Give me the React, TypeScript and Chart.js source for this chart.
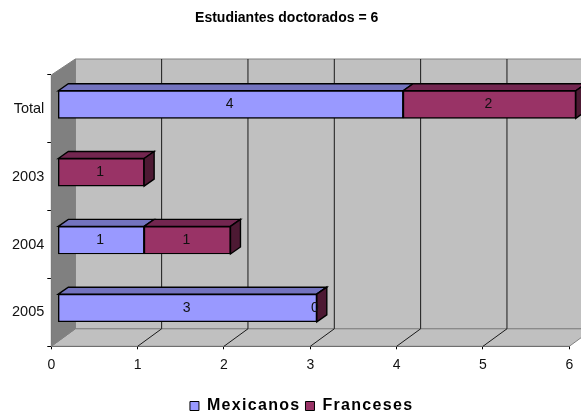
import React, { useEffect, useRef } from "react";
import { Chart, registerables } from "chart.js";

Chart.register(...registerables);

const categories = ["Total", "2003", "2004", "2005"];
const mexicanos = [4, null, 1, 3];
const franceses = [2, 1, 1, 0];
const axisMax = 6;
const chartTitle = "Estudiantes doctorados = 6";

const FONT = "'Liberation Sans', Arial, sans-serif";
const WALL_DX = 24;
const WALL_DY = 17.5;
const BAR_SHIFT_X = 6.5;
const BAR_SHIFT_Y = -4.4;
const BAR_DX = 10;
const BAR_DY = 7;

const polygon = (ctx: any, pts: number[][], fill: string | null, stroke: string | null, lw = 1) => {
  ctx.beginPath();
  pts.forEach(([x, y], i) => (i ? ctx.lineTo(x, y) : ctx.moveTo(x, y)));
  ctx.closePath();
  if (fill) {
    ctx.fillStyle = fill;
    ctx.fill();
  }
  if (stroke) {
    ctx.strokeStyle = stroke;
    ctx.lineWidth = lw;
    ctx.stroke();
  }
};

// Side wall, back wall and floor of the 3D box, with gridlines following the value axis.
const walls = {
  id: "walls",
  beforeDatasetsDraw(chart: any) {
    const { ctx, chartArea: a, scales } = chart;
    const x = scales.x;
    const bl = a.bottom - WALL_DY;
    const tp = a.top - 16;
    ctx.save();
    polygon(ctx, [[a.left + WALL_DX, tp], [a.right + WALL_DX, tp], [a.right + WALL_DX, bl], [a.left + WALL_DX, bl]], "#c0c0c0", "#808080");
    polygon(ctx, [[a.left, a.bottom], [a.left + WALL_DX, bl], [a.right + WALL_DX, bl], [a.right, a.bottom]], "#c0c0c0", "#808080");
    polygon(ctx, [[a.left, a.top], [a.left + WALL_DX, tp], [a.left + WALL_DX, bl], [a.left, a.bottom]], "#808080", "#808080");
    for (let v = 1; v <= axisMax; v++) {
      const px = x.getPixelForValue(v);
      ctx.strokeStyle = "#1a1a1a";
      ctx.lineWidth = 1;
      ctx.beginPath();
      ctx.moveTo(px + WALL_DX, tp);
      ctx.lineTo(px + WALL_DX, bl);
      ctx.stroke();
      if (v < axisMax) {
        ctx.beginPath();
        ctx.moveTo(px, a.bottom);
        ctx.lineTo(px + WALL_DX, bl);
        ctx.stroke();
      }
    }
    ctx.restore();
  },
};

// Top and end faces of the stacked bars; the front faces are the library's own bars.
const barDepth = {
  id: "barDepth",
  beforeDatasetsDraw(chart: any) {
    const { ctx } = chart;
    ctx.save();
    ctx.translate(BAR_SHIFT_X, BAR_SHIFT_Y);
    const tops = ["#7373bf", "#732650"];
    const sides = ["#4d4d80", "#4d1933"];
    const last = chart.data.datasets.length - 1;
    chart.data.datasets.forEach((ds: any, di: number) => {
      chart.getDatasetMeta(di).data.forEach((el: any, i: number) => {
        if (ds.data[i] === null) return;
        const { x, y, base, height } = el.getProps(["x", "y", "base", "height"], true);
        const t = y - height / 2;
        const b = y + height / 2;
        polygon(ctx, [[base, t], [base + BAR_DX, t - BAR_DY], [x + BAR_DX, t - BAR_DY], [x, t]], tops[di], "#000", 1.4);
        if (di === last) {
          polygon(ctx, [[x, t], [x + BAR_DX, t - BAR_DY], [x + BAR_DX, b - BAR_DY], [x, b]], sides[di], "#000", 1.4);
        }
      });
    });
  },
  afterDatasetsDraw(chart: any) {
    const { ctx } = chart;
    ctx.restore();
    // Value labels sit on the front face of each segment.
    ctx.save();
    ctx.font = `14px ${FONT}`;
    ctx.fillStyle = "#111";
    ctx.textAlign = "center";
    ctx.textBaseline = "middle";
    chart.data.datasets.forEach((ds: any, di: number) => {
      chart.getDatasetMeta(di).data.forEach((el: any, i: number) => {
        const value = ds.data[i];
        if (value === null) return;
        const { x, y, base } = el.getProps(["x", "y", "base"], true);
        const nudge = value === 0 ? -2 : -1;
        ctx.fillText(String(value), (x + base) / 2 + BAR_SHIFT_X + nudge, y + BAR_SHIFT_Y);
      });
    });
    ctx.restore();
  },
};

// Spaced-out legend lettering, and the horizontal offsets of the title and legend.
const boxTweaks = {
  id: "boxTweaks",
  beforeLayout(chart: any) {
    const legend = chart.legend;
    if (!legend || legend.__wrapped) return;
    legend.__wrapped = true;
    const fit = legend.fit.bind(legend);
    const draw = legend.draw.bind(legend);
    legend.fit = () => {
      chart.ctx.save();
      chart.ctx.letterSpacing = "1.3px";
      fit();
      chart.ctx.restore();
      legend.height = 22;
    };
    legend.draw = () => {
      chart.ctx.save();
      chart.ctx.letterSpacing = "1.3px";
      draw();
      chart.ctx.restore();
    };
  },
  afterLayout(chart: any) {
    chart.legend.left += 17;
    chart.legend.right += 17;
    chart.titleBlock.left += 2;
    chart.titleBlock.right += 2;
  },
};

export default function App() {
  const ref = useRef<HTMLCanvasElement | null>(null);

  useEffect(() => {
    const chart = new Chart(ref.current as HTMLCanvasElement, {
      type: "bar",
      data: {
        labels: categories,
        datasets: [
          { label: "Mexicanos", data: mexicanos, backgroundColor: "#9999ff" },
          { label: "Franceses", data: franceses, backgroundColor: "#993366" },
        ],
      },
      plugins: [walls, barDepth, boxTweaks],
      options: {
        indexAxis: "y",
        responsive: false,
        animation: false,
        devicePixelRatio: 1,
        layout: { padding: { right: 11.7 } },
        datasets: {
          bar: {
            barThickness: 27.6,
            borderColor: "#000",
            borderWidth: 1.4,
            borderSkipped: false,
            clip: false,
          },
        },
        scales: {
          x: {
            stacked: true,
            min: 0,
            max: axisMax,
            afterFit: (s: any) => {
              s.height = 46.7;
            },
            border: { color: "#000", width: 1 },
            grid: { drawOnChartArea: false, tickLength: 3, color: "#000" },
            ticks: { stepSize: 1, color: "#111", padding: 7, maxRotation: 0, font: { family: FONT, size: 14 } },
          },
          y: {
            stacked: true,
            afterFit: (s: any) => {
              s.width = 51.3;
            },
            border: { color: "#333", width: 1 },
            grid: { drawOnChartArea: false, offset: true, tickLength: 4, color: "#000" },
            ticks: { color: "#111", padding: 3, font: { family: FONT, size: 14.5 } },
          },
        },
        plugins: {
          title: {
            display: true,
            text: chartTitle,
            color: "#000",
            padding: { top: 10, bottom: 48.2 },
            font: { family: FONT, size: 14, weight: "bold" },
          },
          legend: {
            position: "bottom",
            labels: {
              boxWidth: 9,
              boxHeight: 9,
              padding: 5,
              color: "#000",
              font: { family: FONT, size: 16, weight: "bold" },
              generateLabels: (c: any) =>
                c.data.datasets.map((d: any, i: number) => ({
                  text: d.label,
                  fillStyle: d.backgroundColor,
                  strokeStyle: "#000",
                  lineWidth: 1,
                  datasetIndex: i,
                })),
            },
          },
          tooltip: { enabled: false },
        },
      },
    } as any);
    return () => chart.destroy();
  }, []);

  return (
    <canvas
      ref={ref}
      width={581}
      height={415}
      style={{ position: "absolute", left: 0, top: 0, display: "block", background: "#fff" }}
    />
  );
}
